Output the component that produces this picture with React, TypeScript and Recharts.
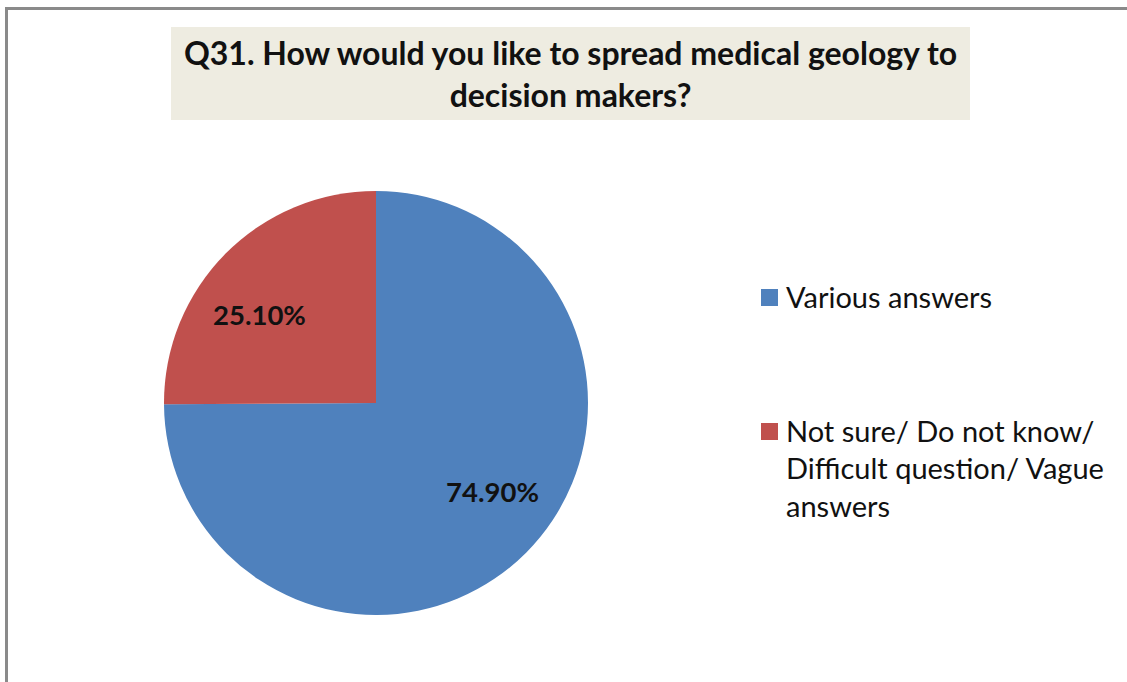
import React from 'react';
import { PieChart, Pie, Cell, Legend } from 'recharts';

const categories = ['Various answers', 'Not sure/ Do not know/ Difficult question/ Vague answers'];
const shares = [74.9, 25.1];
const colors = ['#4F81BD', '#C0504D'];
const titleLines = ['Q31. How would you like to spread medical geology to', 'decision makers?'];

const data = categories.map((name, i) => ({ name, value: shares[i] }));

const FONT = 'Lato, "Open Sans", sans-serif';

const renderLabel = (props: any) => {
  const { cx, cy, midAngle, outerRadius, value } = props;
  const rad = (midAngle * Math.PI) / 180;
  // excel-ish "best fit" placement, squeezed toward the horizontal
  const x = cx + Math.cos(rad) * outerRadius * 0.775;
  const y = cy - Math.sin(rad) * outerRadius * 0.59;
  return (
    <text x={x} y={y} textAnchor="middle" dominantBaseline="central" fontFamily={FONT} fontWeight={700} fontSize={27.5} fill="#111">
      {`${value.toFixed(2)}%`}
    </text>
  );
};

const renderLegend = (props: any) => {
  // keep the data order (recharts sorts legend items by name otherwise)
  const items = [...props.payload].sort((a: any, b: any) => categories.indexOf(a.value) - categories.indexOf(b.value));
  return (
    <div style={{ fontFamily: FONT, fontSize: 29, lineHeight: '37.5px', color: '#111' }}>
      {items.map((entry: any, i: number) => (
        <div key={i} style={{ display: 'flex', alignItems: 'flex-start', marginBottom: i === 0 ? 96 : 0 }}>
          <span style={{ width: 17, height: 17, background: entry.color, marginTop: 11, marginRight: 8, flexShrink: 0 }} />
          <span style={{ width: 325 }}>{entry.value}</span>
        </div>
      ))}
    </div>
  );
};

export default function App() {
  return (
    <div style={{ position: 'absolute', left: 0, top: 0, width: 1127, height: 682, overflow: 'hidden', background: '#fff' }}>
      <div style={{ position: 'absolute', left: 5, top: 7, width: 1200, height: 800, border: '3px solid #8a8a8a' }} />
      <div
        style={{
          position: 'absolute', left: 171, top: 27, width: 799, height: 93, background: '#EEECE1',
          fontFamily: FONT, fontWeight: 700, fontSize: 32, lineHeight: '42px', textAlign: 'center', color: '#111',
          paddingTop: 5, boxSizing: 'border-box',
        }}
      >
        {titleLines.map((t, i) => <div key={i}>{t}</div>)}
      </div>
      <PieChart width={1127} height={682} margin={{ top: 0, right: 0, bottom: 0, left: 0 }} style={{ position: 'absolute', left: 0, top: 0 }}>
        <Pie
          data={data}
          dataKey="value"
          nameKey="name"
          cx={376}
          cy={403}
          outerRadius={212}
          startAngle={90}
          endAngle={-270}
          stroke="none"
          label={renderLabel}
          labelLine={false}
          isAnimationActive={false}
        >
          {data.map((_, i) => <Cell key={i} fill={colors[i]} />)}
        </Pie>
        <Legend content={renderLegend} layout="vertical" wrapperStyle={{ left: 761, top: 278, width: 360 }} />
      </PieChart>
    </div>
  );
}
